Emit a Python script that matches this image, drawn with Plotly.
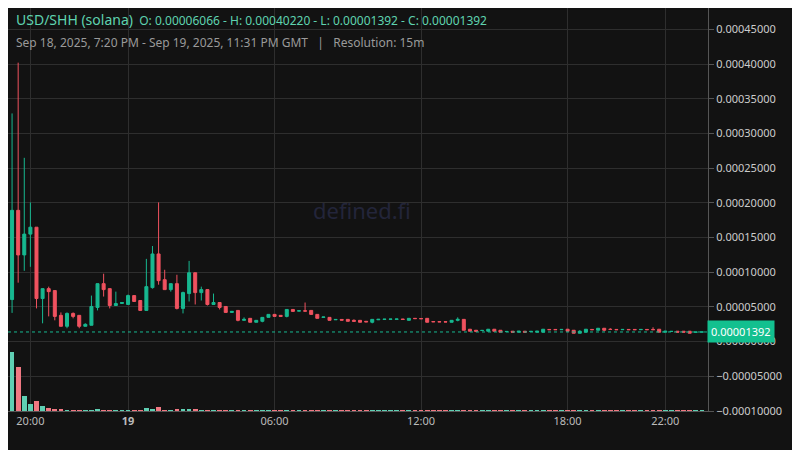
import pandas as pd
import plotly.graph_objects as go

# 15m candles, Sep 18 19:15 -> Sep 19 23:30 (GMT)
opens = [6.066, 18.93, 12.50, 15.50, 16.50, 6.21, 7.64, 7.36, 3.79, 2.21,
         4.07, 3.79, 2.21, 2.36, 4.93, 8.36, 7.64, 5.21, 5.50, 5.36,
         6.64, 5.93, 4.50, 7.79, 12.64, 8.93, 7.50, 8.36, 4.79, 6.93,
         9.93, 7.07, 7.50, 5.36, 5.64, 5.07, 4.21, 4.50, 3.07, 3.36,
         2.79, 2.93, 3.50, 3.93, 3.79, 3.64, 4.64, 4.40, 4.45, 4.50,
         3.93, 3.50, 3.50, 3.15, 3.20, 3.21, 3.07, 3.07, 2.93, 2.79,
         3.15, 3.20, 3.22, 3.22, 3.26, 3.07, 3.36, 3.34, 3.36, 2.90,
         2.88, 2.87, 2.79, 3.07, 3.21, 1.79, 1.64, 1.60, 1.50, 1.79,
         1.64, 1.44, 1.50, 1.36, 1.50, 1.46, 1.36, 1.36, 1.76, 1.76,
         1.72, 1.79, 1.64, 1.21, 1.36, 1.76, 1.64, 1.93, 1.78, 1.76,
         1.72, 1.76, 1.76, 1.72, 1.76, 1.76, 1.79, 1.36, 1.46, 1.50,
         1.50, 1.50, 1.36, 1.38]
highs = [32.90, 40.22, 26.50, 20.07, 16.50, 7.64, 7.93, 7.36, 4.21, 4.21,
         4.21, 3.79, 2.64, 6.64, 8.36, 9.79, 7.64, 7.21, 5.64, 6.79,
         6.64, 5.93, 11.93, 13.79, 20.07, 10.36, 8.36, 9.64, 7.21, 11.64,
         9.93, 7.93, 7.50, 6.93, 5.64, 5.07, 4.36, 4.50, 3.50, 3.36,
         3.07, 3.50, 3.93, 3.93, 3.79, 4.64, 4.64, 4.50, 5.64, 4.50,
         3.93, 3.55, 3.50, 3.20, 3.20, 3.21, 3.21, 3.07, 2.93, 3.21,
         3.25, 3.25, 3.26, 3.27, 3.26, 3.36, 3.36, 3.36, 3.36, 2.92,
         2.90, 2.88, 3.07, 3.50, 3.21, 1.79, 1.64, 1.62, 1.79, 1.79,
         1.64, 1.47, 1.50, 1.50, 1.50, 1.48, 1.50, 1.79, 1.76, 1.76,
         1.76, 1.79, 1.64, 1.64, 1.79, 1.76, 1.93, 1.93, 1.93, 1.76,
         1.76, 1.76, 1.76, 1.76, 1.76, 2.07, 1.79, 1.50, 1.48, 1.50,
         1.50, 1.50, 1.39, 1.40]
lows = [4.14, 8.50, 10.21, 10.79, 4.79, 2.64, 3.64, 3.07, 2.21, 1.93,
        3.36, 1.93, 2.21, 2.36, 4.50, 6.50, 4.79, 5.21, 5.50, 5.36,
        5.79, 4.50, 4.50, 7.64, 8.21, 7.50, 7.21, 4.64, 4.07, 5.79,
        5.36, 5.93, 5.21, 5.36, 4.64, 4.21, 4.21, 2.93, 3.07, 2.79,
        2.79, 2.79, 3.50, 3.64, 3.64, 3.50, 4.36, 4.40, 4.40, 3.93,
        3.36, 3.50, 3.07, 3.15, 3.10, 2.93, 2.93, 2.79, 2.85, 2.64,
        3.15, 3.20, 3.22, 3.22, 3.18, 3.07, 3.30, 3.28, 2.79, 2.85,
        2.84, 2.82, 2.79, 2.93, 1.64, 1.50, 1.36, 1.58, 1.50, 1.50,
        1.36, 1.44, 1.36, 1.36, 1.36, 1.46, 1.36, 1.36, 1.72, 1.72,
        1.72, 1.50, 1.21, 1.21, 1.36, 1.72, 1.64, 1.50, 1.76, 1.72,
        1.72, 1.72, 1.72, 1.72, 1.72, 1.72, 1.36, 1.36, 1.46, 1.36,
        1.36, 1.21, 1.36, 1.392]
closes = [18.93, 12.50, 15.50, 16.50, 6.21, 7.64, 7.21, 3.64, 2.21, 4.07,
          3.64, 2.21, 2.50, 5.07, 8.36, 7.50, 5.21, 5.50, 5.64, 6.64,
          5.79, 4.50, 7.93, 12.64, 8.79, 7.50, 8.36, 4.79, 7.07, 9.93,
          7.07, 7.50, 5.36, 5.64, 4.93, 4.21, 4.36, 3.07, 3.21, 2.79,
          3.07, 3.50, 3.93, 3.64, 3.64, 4.64, 4.36, 4.45, 4.40, 3.93,
          3.36, 3.55, 3.07, 3.20, 3.10, 2.93, 2.93, 2.79, 2.85, 3.21,
          3.22, 3.24, 3.25, 3.26, 3.20, 3.36, 3.32, 3.30, 2.79, 2.86,
          2.85, 2.84, 3.07, 3.21, 1.64, 1.50, 1.50, 1.62, 1.79, 1.50,
          1.36, 1.47, 1.36, 1.50, 1.36, 1.48, 1.50, 1.79, 1.72, 1.72,
          1.76, 1.50, 1.21, 1.50, 1.79, 1.72, 1.93, 1.64, 1.76, 1.72,
          1.76, 1.72, 1.72, 1.76, 1.72, 1.72, 1.36, 1.50, 1.48, 1.36,
          1.36, 1.21, 1.38, 1.392]
volumes = [60, 44, 15, 7, 10, 5, 3, 2, 2, 1,
           0.7, 0.7, 0.7, 1, 1.2, 0.8, 0.7, 0.6, 0.6, 0.7,
           0.6, 0.7, 3, 2, 4, 0.8, 0.8, 2, 2, 2,
           2, 0.7, 0.8, 0.7, 0.7, 0.6, 0.6, 0.7, 0.6, 0.6,
           0.6, 0.6, 0.6, 0.6, 0.5, 0.7, 0.5, 0.5, 0.6, 0.5,
           0.5, 0.5, 0.5, 0.5, 0.5, 0.5, 0.5, 0.5, 0.5, 0.6,
           0.5, 0.5, 0.5, 0.5, 0.5, 0.5, 0.5, 0.5, 0.6, 0.5,
           0.5, 0.5, 0.5, 0.5, 0.8, 0.5, 0.5, 0.5, 0.5, 0.5,
           0.5, 0.5, 0.5, 0.5, 0.5, 0.5, 0.5, 0.5, 0.5, 0.5,
           0.5, 0.5, 0.5, 0.5, 0.5, 0.5, 0.5, 0.5, 0.5, 0.5,
           0.5, 0.5, 0.5, 0.5, 0.5, 0.5, 0.5, 0.5, 0.5, 0.5,
           0.5, 0.5, 0.5, 0.5]
tick_times = ["2025-09-18 20:00", "2025-09-19 00:00", "2025-09-19 06:00",
              "2025-09-19 12:00", "2025-09-19 18:00", "2025-09-19 22:00"]
tick_text = ["20:00", "<b>19</b>", "06:00", "12:00", "18:00", "22:00"]
last_price = 0.00001392

times = pd.date_range("2025-09-18 19:15", periods=len(opens), freq="15min")
s = 1e-5
o = [v * s for v in opens]
h = [v * s for v in highs]
l = [v * s for v in lows]
c = [v * s for v in closes]
vol = [v * 1000 for v in volumes]

up, down = "#17b890", "#f0525f"
vol_colors = ["#5fcfb3" if cc >= oo else "#f07882" for oo, cc in zip(o, c)]

fig = go.Figure()
fig.add_trace(go.Bar(x=times, y=vol, marker_color=vol_colors, marker_line_width=0,
                     yaxis="y2", width=15 * 60 * 1000 * 0.78, showlegend=False))
fig.add_trace(go.Candlestick(
    x=times, open=o, high=h, low=l, close=c,
    increasing=dict(line=dict(color=up, width=1), fillcolor=up),
    decreasing=dict(line=dict(color=down, width=1), fillcolor=down),
    whiskerwidth=0, showlegend=False))

fig.add_shape(type="line", xref="paper", x0=0, x1=1, y0=last_price, y1=last_price,
              line=dict(color="#17b890", width=1, dash="dot"))

fig.add_annotation(xref="paper", x=1, y=last_price, xanchor="left", yanchor="middle",
                   text="0.00001392", showarrow=False, bgcolor="#12c08f",
                   font=dict(color="white", size=11, family="Noto Sans"),
                   borderpad=3, xshift=-1)
fig.add_annotation(xref="paper", yref="paper", x=0.505, y=0.5, text="defined.fi",
                   showarrow=False, font=dict(color="#23253a", size=22, family="Noto Sans"))
fig.add_annotation(xref="paper", yref="paper", x=0.008, y=1.0, xanchor="left", yanchor="top",
                   showarrow=False, align="left",
                   text="<span style='font-size:14px'>USD/SHH (solana)</span>  O: 0.00006066 - H: 0.00040220 - L: 0.00001392 - C: 0.00001392",
                   font=dict(color="#5fd3b0", size=12, family="Noto Sans"))
fig.add_annotation(xref="paper", yref="paper", x=0.008, y=0.94, xanchor="left", yanchor="top",
                   showarrow=False,
                   text="Sep 18, 2025, 7:20 PM - Sep 19, 2025, 11:31 PM GMT   |   Resolution: 15m",
                   font=dict(color="#9a9a9a", size=12, family="Noto Sans"))

fig.update_layout(
    width=800, height=450,
    margin=dict(l=0, r=100, t=0, b=47),
    paper_bgcolor="#121212", plot_bgcolor="#121212",
    font=dict(family="Noto Sans", color="#cccccc", size=11),
    bargap=0,
    xaxis=dict(rangeslider=dict(visible=False), tickvals=tick_times, ticktext=tick_text,
               range=["2025-09-18 19:05", "2025-09-19 23:45"],
               showgrid=True, gridcolor="#2e2e2e", zeroline=False,
               showline=True, linecolor="#555555", ticks="", tickfont=dict(color="#bbbbbb")),
    yaxis=dict(side="right", range=[-0.0001, 0.000481], tickformat=".8f",
               dtick=0.00005, tick0=0, showgrid=True, gridcolor="#2e2e2e",
               zeroline=False, showline=True, linecolor="#555555",
               ticks="outside", ticklen=5, tickcolor="#555555"),
    yaxis2=dict(overlaying="y", range=[0, 407000], visible=False),
)

fig.write_html("out.html")
